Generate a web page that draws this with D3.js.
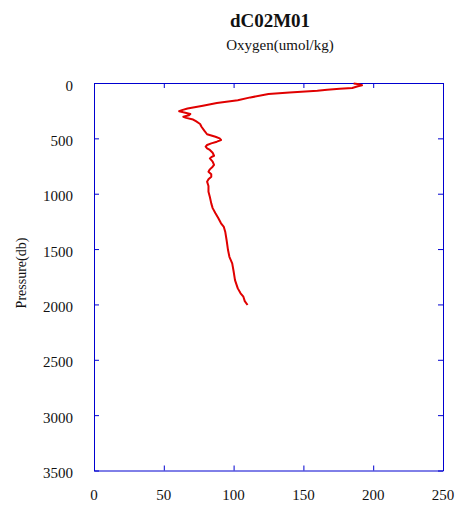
<!DOCTYPE html>
<html>
<head>
<meta charset="utf-8">
<script src="https://cdn.jsdelivr.net/npm/d3@7"></script>
<style>
  body { margin: 0; background: #fff; }
  text { font-family: "Liberation Serif", "Times New Roman", serif; fill: #111; }
</style>
</head>
<body>
<div id="chart"></div>
<script>
// profile
const pressure = [4, 12, 20, 30, 45, 52, 60, 70, 85, 100, 130, 155, 180, 205, 230, 245, 255, 265, 280, 292,
  305, 315, 330, 345, 370, 395, 430, 463, 485, 500, 515, 530, 545, 560, 575, 590, 605, 630, 657, 670,
  681, 710, 740, 756, 780, 801, 825, 846, 870, 891, 930, 982, 1030, 1087, 1130, 1177, 1220, 1267, 1300, 1343,
  1420, 1509, 1570, 1629, 1700, 1780, 1855, 1900, 1930, 1970, 2005];
const oxygen = [186, 190, 192, 189, 185, 176, 167, 160, 140, 125, 112, 103, 88, 78, 67, 63, 61, 64, 69, 68,
  64, 66, 71, 73, 76, 77, 79, 81, 87, 90, 91, 88, 84, 81, 80, 81, 83, 85, 86, 84,
  83, 85, 86, 85, 83, 82, 84, 84, 82, 81, 82, 82, 83, 84, 85, 87, 89, 91, 93, 94,
  95, 96, 97, 99, 100, 101, 103, 105, 107, 108, 110];
const xTicks = [0, 50, 100, 150, 200, 250];
const yTicks = [0, 500, 1000, 1500, 2000, 2500, 3000, 3500];

const width = 461, height = 508;
const margin = {left: 94, top: 83, right: 18, bottom: 37.5};
const axisColor = "#0000d0";
const lineColor = "#e00000";

const svg = d3.select("#chart")
  .append("svg")
  .attr("width", width)
  .attr("height", height);

const x = d3.scaleLinear().domain([0, 250]).range([margin.left, width - margin.right]);
const y = d3.scaleLinear().domain([0, 3500]).range([margin.top, height - margin.bottom]);

// ticks inward on all four sides
const axes = [
  d3.axisBottom(x).tickValues(xTicks).tickSizeInner(-5).tickSizeOuter(0).tickFormat(""),
  d3.axisTop(x).tickValues(xTicks).tickSizeInner(-5).tickSizeOuter(0).tickFormat(""),
  d3.axisLeft(y).tickValues(yTicks).tickSizeInner(-5).tickSizeOuter(0).tickFormat(""),
  d3.axisRight(y).tickValues(yTicks).tickSizeInner(-5).tickSizeOuter(0).tickFormat("")
];
const shifts = [
  `translate(0,${y(3500)})`, `translate(0,${y(0)})`,
  `translate(${x(0)},0)`, `translate(${x(250)},0)`
];
axes.forEach((a, i) => {
  const g = svg.append("g").attr("transform", shifts[i]).call(a);
  g.selectAll("path, line").attr("stroke", axisColor).attr("stroke-width", 1);
});

// tick labels
svg.append("g").selectAll("text")
  .data(xTicks)
  .enter()
  .append("text")
  .attr("x", d => x(d))
  .attr("y", y(3500) + 29.5)
  .attr("text-anchor", "middle")
  .attr("font-size", "15px")
  .text(d => d);

svg.append("g").selectAll("text")
  .data(yTicks)
  .enter()
  .append("text")
  .attr("x", x(0) - 21)
  .attr("y", d => y(d) + 7.5)
  .attr("text-anchor", "end")
  .attr("font-size", "15px")
  .text(d => d);

// profile line
const line = d3.line()
  .x(d => x(d[1]))
  .y(d => y(d[0]));

svg.append("path")
  .datum(pressure.map((p, i) => [p, oxygen[i]]))
  .attr("d", line)
  .attr("fill", "none")
  .attr("stroke", lineColor)
  .attr("stroke-width", 2)
  .attr("stroke-linejoin", "round");

// titles
svg.append("text")
  .attr("x", 270)
  .attr("y", 27)
  .attr("text-anchor", "middle")
  .attr("font-size", "19px")
  .attr("font-weight", "bold")
  .text("dC02M01");

svg.append("text")
  .attr("x", 280)
  .attr("y", 50)
  .attr("text-anchor", "middle")
  .attr("font-size", "15px")
  .text("Oxygen(umol/kg)");

svg.append("text")
  .attr("transform", "translate(26,273) rotate(-90)")
  .attr("text-anchor", "middle")
  .attr("font-size", "14px")
  .text("Pressure(db)");
</script>
</body>
</html>
